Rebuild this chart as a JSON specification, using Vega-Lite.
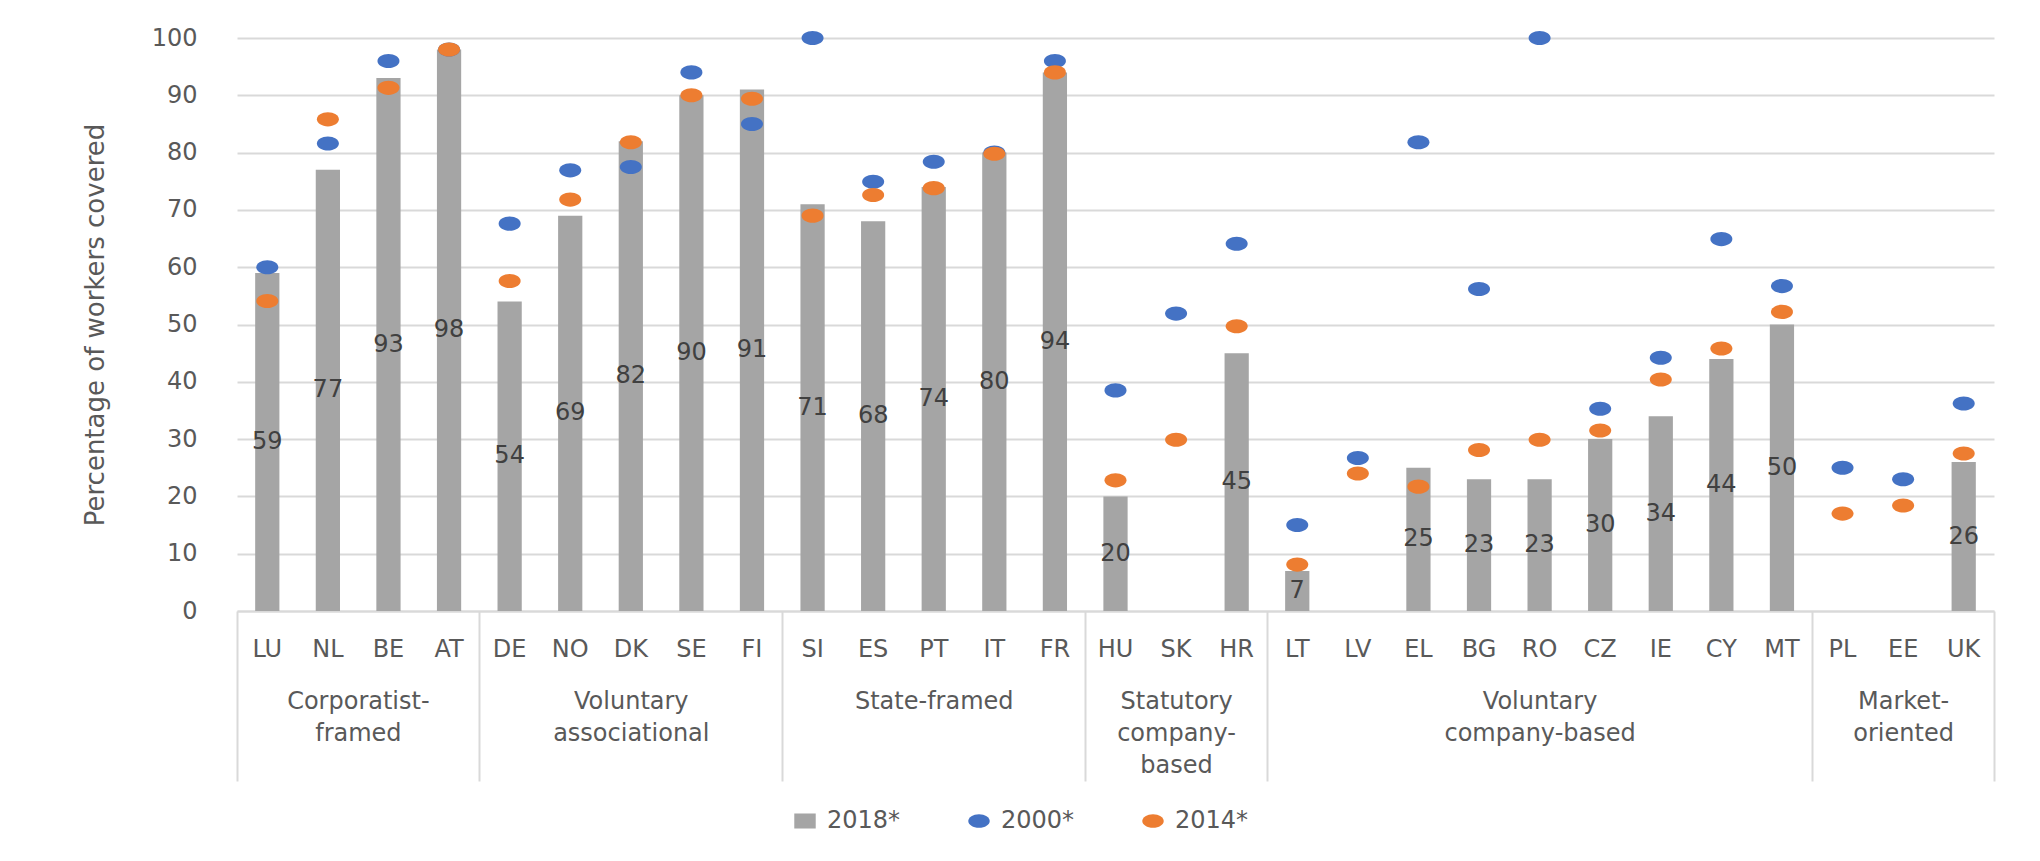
{
  "$schema": "https://vega.github.io/schema/vega-lite/v6.json",
  "width": 1757,
  "height": 573,
  "autosize": {"type": "none"},
  "padding": {"left": 237, "top": 38, "right": 46, "bottom": 250},
  "background": "white",
  "config": {
    "view": {"stroke": null},
    "font": "DejaVu Sans",
    "legend": {
      "orient": "none",
      "legendX": 556,
      "legendY": 771,
      "direction": "horizontal",
      "title": null,
      "symbolSize": 460,
      "labelFontSize": 24,
      "labelColor": "#595959",
      "labelFont": "DejaVu Sans",
      "columnPadding": 66,
      "labelOffset": 10,
      "symbolStrokeWidth": 0,
      "padding": 0
    }
  },
  "data": {
    "values": [
      {"country": "LU", "group": "Corporatist-framed", "year": "2018*", "value": 59},
      {"country": "NL", "group": "Corporatist-framed", "year": "2018*", "value": 77},
      {"country": "BE", "group": "Corporatist-framed", "year": "2018*", "value": 93},
      {"country": "AT", "group": "Corporatist-framed", "year": "2018*", "value": 98},
      {"country": "DE", "group": "Voluntary associational", "year": "2018*", "value": 54},
      {"country": "NO", "group": "Voluntary associational", "year": "2018*", "value": 69},
      {"country": "DK", "group": "Voluntary associational", "year": "2018*", "value": 82},
      {"country": "SE", "group": "Voluntary associational", "year": "2018*", "value": 90},
      {"country": "FI", "group": "Voluntary associational", "year": "2018*", "value": 91},
      {"country": "SI", "group": "State-framed", "year": "2018*", "value": 71},
      {"country": "ES", "group": "State-framed", "year": "2018*", "value": 68},
      {"country": "PT", "group": "State-framed", "year": "2018*", "value": 74},
      {"country": "IT", "group": "State-framed", "year": "2018*", "value": 80},
      {"country": "FR", "group": "State-framed", "year": "2018*", "value": 94},
      {"country": "HU", "group": "Statutory company-based", "year": "2018*", "value": 20},
      {"country": "HR", "group": "Statutory company-based", "year": "2018*", "value": 45},
      {"country": "LT", "group": "Voluntary company-based", "year": "2018*", "value": 7},
      {"country": "EL", "group": "Voluntary company-based", "year": "2018*", "value": 25},
      {"country": "BG", "group": "Voluntary company-based", "year": "2018*", "value": 23},
      {"country": "RO", "group": "Voluntary company-based", "year": "2018*", "value": 23},
      {"country": "CZ", "group": "Voluntary company-based", "year": "2018*", "value": 30},
      {"country": "IE", "group": "Voluntary company-based", "year": "2018*", "value": 34},
      {"country": "CY", "group": "Voluntary company-based", "year": "2018*", "value": 44},
      {"country": "MT", "group": "Voluntary company-based", "year": "2018*", "value": 50},
      {"country": "UK", "group": "Market-oriented", "year": "2018*", "value": 26},

      {"country": "LU", "group": "Corporatist-framed", "year": "2000*", "value": 60},
      {"country": "NL", "group": "Corporatist-framed", "year": "2000*", "value": 81.6},
      {"country": "BE", "group": "Corporatist-framed", "year": "2000*", "value": 96},
      {"country": "AT", "group": "Corporatist-framed", "year": "2000*", "value": 98},
      {"country": "DE", "group": "Voluntary associational", "year": "2000*", "value": 67.6},
      {"country": "NO", "group": "Voluntary associational", "year": "2000*", "value": 76.9},
      {"country": "DK", "group": "Voluntary associational", "year": "2000*", "value": 77.5},
      {"country": "SE", "group": "Voluntary associational", "year": "2000*", "value": 94},
      {"country": "FI", "group": "Voluntary associational", "year": "2000*", "value": 85},
      {"country": "SI", "group": "State-framed", "year": "2000*", "value": 100},
      {"country": "ES", "group": "State-framed", "year": "2000*", "value": 74.9},
      {"country": "PT", "group": "State-framed", "year": "2000*", "value": 78.4},
      {"country": "IT", "group": "State-framed", "year": "2000*", "value": 80},
      {"country": "FR", "group": "State-framed", "year": "2000*", "value": 96},
      {"country": "HU", "group": "Statutory company-based", "year": "2000*", "value": 38.5},
      {"country": "SK", "group": "Statutory company-based", "year": "2000*", "value": 51.9},
      {"country": "HR", "group": "Statutory company-based", "year": "2000*", "value": 64.1},
      {"country": "LT", "group": "Voluntary company-based", "year": "2000*", "value": 15},
      {"country": "LV", "group": "Voluntary company-based", "year": "2000*", "value": 26.7},
      {"country": "EL", "group": "Voluntary company-based", "year": "2000*", "value": 81.8},
      {"country": "BG", "group": "Voluntary company-based", "year": "2000*", "value": 56.2},
      {"country": "RO", "group": "Voluntary company-based", "year": "2000*", "value": 100},
      {"country": "CZ", "group": "Voluntary company-based", "year": "2000*", "value": 35.3},
      {"country": "IE", "group": "Voluntary company-based", "year": "2000*", "value": 44.2},
      {"country": "CY", "group": "Voluntary company-based", "year": "2000*", "value": 64.9},
      {"country": "MT", "group": "Voluntary company-based", "year": "2000*", "value": 56.7},
      {"country": "PL", "group": "Market-oriented", "year": "2000*", "value": 25},
      {"country": "EE", "group": "Market-oriented", "year": "2000*", "value": 23},
      {"country": "UK", "group": "Market-oriented", "year": "2000*", "value": 36.2},

      {"country": "LU", "group": "Corporatist-framed", "year": "2014*", "value": 54.1},
      {"country": "NL", "group": "Corporatist-framed", "year": "2014*", "value": 85.8},
      {"country": "BE", "group": "Corporatist-framed", "year": "2014*", "value": 91.3},
      {"country": "AT", "group": "Corporatist-framed", "year": "2014*", "value": 98},
      {"country": "DE", "group": "Voluntary associational", "year": "2014*", "value": 57.6},
      {"country": "NO", "group": "Voluntary associational", "year": "2014*", "value": 71.8},
      {"country": "DK", "group": "Voluntary associational", "year": "2014*", "value": 81.8},
      {"country": "SE", "group": "Voluntary associational", "year": "2014*", "value": 90},
      {"country": "FI", "group": "Voluntary associational", "year": "2014*", "value": 89.4},
      {"country": "SI", "group": "State-framed", "year": "2014*", "value": 69},
      {"country": "ES", "group": "State-framed", "year": "2014*", "value": 72.6},
      {"country": "PT", "group": "State-framed", "year": "2014*", "value": 73.8},
      {"country": "IT", "group": "State-framed", "year": "2014*", "value": 79.8},
      {"country": "FR", "group": "State-framed", "year": "2014*", "value": 94},
      {"country": "HU", "group": "Statutory company-based", "year": "2014*", "value": 22.8},
      {"country": "SK", "group": "Statutory company-based", "year": "2014*", "value": 29.9},
      {"country": "HR", "group": "Statutory company-based", "year": "2014*", "value": 49.7},
      {"country": "LT", "group": "Voluntary company-based", "year": "2014*", "value": 8.1},
      {"country": "LV", "group": "Voluntary company-based", "year": "2014*", "value": 24},
      {"country": "EL", "group": "Voluntary company-based", "year": "2014*", "value": 21.7},
      {"country": "BG", "group": "Voluntary company-based", "year": "2014*", "value": 28.1},
      {"country": "RO", "group": "Voluntary company-based", "year": "2014*", "value": 29.9},
      {"country": "CZ", "group": "Voluntary company-based", "year": "2014*", "value": 31.5},
      {"country": "IE", "group": "Voluntary company-based", "year": "2014*", "value": 40.4},
      {"country": "CY", "group": "Voluntary company-based", "year": "2014*", "value": 45.8},
      {"country": "MT", "group": "Voluntary company-based", "year": "2014*", "value": 52.2},
      {"country": "PL", "group": "Market-oriented", "year": "2014*", "value": 17},
      {"country": "EE", "group": "Market-oriented", "year": "2014*", "value": 18.4},
      {"country": "UK", "group": "Market-oriented", "year": "2014*", "value": 27.5}
    ]
  },
  "layer": [
    {
      "transform": [{"filter": "datum.year === '2018*'"}],
      "mark": {"type": "bar", "width": {"band": 0.4}, "color": "#A5A5A5"},
      "encoding": {
        "x": {
          "field": "country", "type": "nominal", "sort": null,
          "scale": {"domain": ["LU","NL","BE","AT","DE","NO","DK","SE","FI","SI","ES","PT","IT","FR","HU","SK","HR","LT","LV","EL","BG","RO","CZ","IE","CY","MT","PL","EE","UK"], "paddingInner": 0, "paddingOuter": 0},
          "axis": {"orient": "bottom", "title": null, "labelAngle": 0, "labelFontSize": 24, "labelFont": "DejaVu Sans", "labelColor": "#595959", "labelPadding": 26, "ticks": false, "domain": true, "domainColor": "#d9d9d9", "domainWidth": 2, "grid": false}
        },
        "y": {
          "field": "value", "type": "quantitative",
          "scale": {"domain": [0, 100], "nice": false},
          "axis": {"values": [0,10,20,30,40,50,60,70,80,90,100], "title": "Percentage of workers covered", "titleFontSize": 26, "titleFont": "DejaVu Sans", "titleFontWeight": "normal", "titleColor": "#595959", "titleX": -142, "titleY": 286.5, "titleAngle": -90, "titleAlign": "center", "titleBaseline": "middle", "labelFontSize": 24, "labelFont": "DejaVu Sans", "labelColor": "#595959", "labelPadding": 40, "ticks": false, "domain": false, "gridColor": "#d9d9d9", "gridWidth": 2}
        },
        "color": {
          "field": "year", "type": "nominal",
          "scale": {"domain": ["2018*", "2000*", "2014*"], "range": ["#A5A5A5", "#4472C4", "#ED7D31"]},
          "legend": {"title": null}
        }
      }
    },
    {
      "transform": [{"filter": "datum.year !== '2018*'"}],
      "mark": {"type": "point", "filled": true, "opacity": 1, "size": 484, "strokeWidth": 0},
      "encoding": {
        "x": {"field": "country", "type": "nominal", "sort": null, "axis": null},
        "y": {"field": "value", "type": "quantitative", "scale": {"domain": [0, 100], "nice": false}, "axis": null},
        "color": {"field": "year", "type": "nominal", "legend": {"title": null}},
        "shape": {
          "field": "year", "type": "nominal",
          "scale": {"domain": ["2018*", "2000*", "2014*"], "range": ["M-1,-0.7H1V0.7H-1Z", "M-1,0A1,0.64,0,1,0,1,0A1,0.64,0,1,0,-1,0Z", "M-1,0A1,0.64,0,1,0,1,0A1,0.64,0,1,0,-1,0Z"]},
          "legend": {"title": null}
        }
      }
    },
    {
      "transform": [{"filter": "datum.year === '2018*'"}],
      "mark": {"type": "text", "fontSize": 24, "font": "DejaVu Sans", "color": "#404040", "baseline": "middle", "align": "center"},
      "encoding": {
        "x": {
          "field": "country", "type": "nominal", "sort": null,
          "axis": {
            "orient": "bottom", "title": null, "labelAngle": 0, "labelLimit": 0,
            "labelExpr": "datum.value === 'NL' ? ['Corporatist-','framed'] : datum.value === 'DK' ? ['Voluntary','associational'] : datum.value === 'PT' ? 'State-framed' : datum.value === 'SK' ? ['Statutory','company-','based'] : datum.value === 'RO' ? ['Voluntary','company-based'] : datum.value === 'EE' ? ['Market-','oriented'] : ''",
            "labelFontSize": 24, "labelFont": "DejaVu Sans", "labelColor": "#595959", "labelLineHeight": 32,
            "labelPadding": -92,
            "labelOffset": {"condition": {"test": "datum.value === 'NL'", "value": 30}, "value": 0},
            "ticks": true, "tickBand": "extent", "tickSize": 170, "tickWidth": 2,
            "tickColor": {"condition": {"test": "datum.extra || indexof(['AT','FI','FR','HR','MT','UK'], datum.value) >= 0", "value": "#d9d9d9"}, "value": "transparent"},
            "domain": false, "grid": false
          }
        },
        "y": {"field": "value", "type": "quantitative", "scale": {"domain": [0, 200], "nice": false}, "axis": null},
        "text": {"field": "value", "type": "quantitative"}
      }
    }
  ],
  "resolve": {"axis": {"x": "independent"}, "scale": {"y": "independent"}}
}
